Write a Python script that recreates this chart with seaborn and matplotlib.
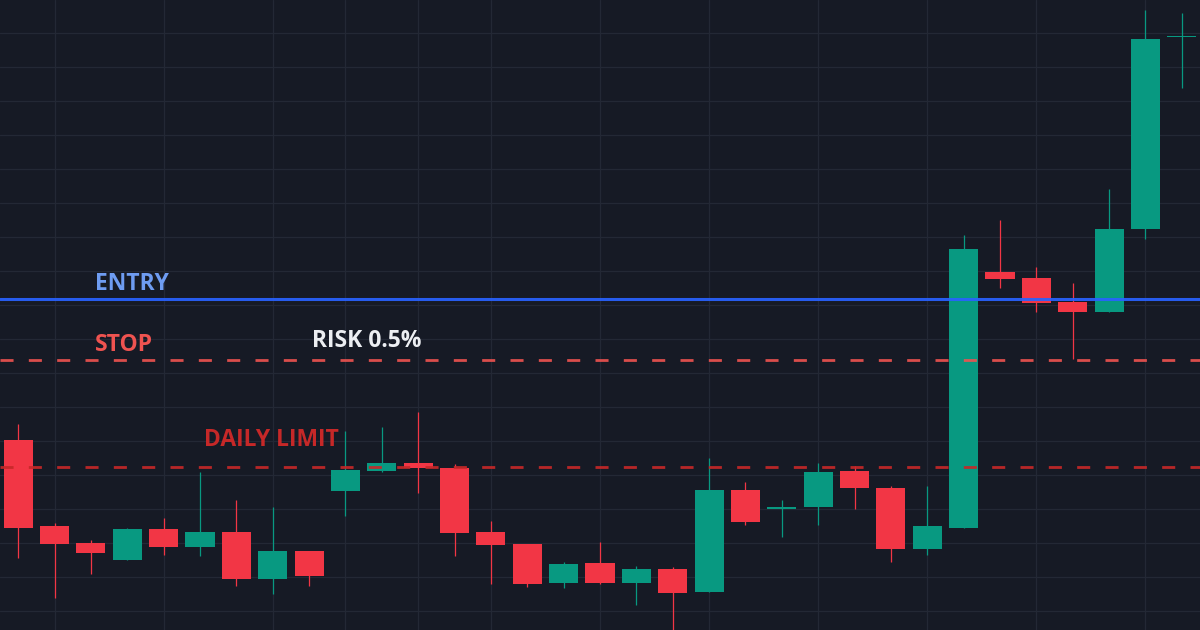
import numpy as np
import pandas as pd
import matplotlib
matplotlib.use("Agg")
import matplotlib.pyplot as plt
import seaborn as sns

# ---- data (price units) ----
opens  = [60.3, 35.0, 29.9, 25.1, 34.2, 28.9, 33.1, 19.4, 27.6, 45.4, 51.2, 53.5, 52.1, 33.2, 29.6, 18.1, 24.2,
          18.3, 22.4, 15.6, 45.5, 40.0, 40.7, 51.2, 46.3, 28.1, 34.5, 109.8, 107.9, 100.9, 97.9, 122.3, 178.8]
closes = [34.5, 29.7, 27.1, 34.2, 28.9, 33.2, 19.4, 27.6, 20.2, 51.5, 53.5, 52.1, 33.0, 29.4, 17.9, 23.9, 18.3,
          22.4, 15.2, 45.5, 36.1, 40.6, 50.9, 46.1, 28.1, 35.0, 116.5, 107.6, 100.7, 97.9, 122.4, 178.3, 178.9]
highs  = [65.0, 35.9, 30.9, 34.4, 37.4, 51.0, 42.6, 40.6, 27.6, 62.9, 64.2, 68.4, 53.2, 36.5, 29.7, 24.4, 30.2,
          23.3, 22.9, 55.1, 47.9, 42.6, 53.4, 52.6, 46.8, 46.9, 120.7, 125.0, 111.2, 106.6, 134.2, 186.8, 185.9]
lows   = [25.7, 13.8, 21.0, 25.1, 26.5, 26.3, 17.4, 15.0, 17.4, 37.9, 51.0, 44.8, 26.3, 18.0, 17.0, 16.7, 18.0,
          11.8, 3.0, 15.6, 35.3, 31.9, 35.3, 39.9, 24.5, 26.6, 34.3, 105.0, 97.9, 84.2, 97.9, 119.4, 163.8]

entry_price = 101.7
stop_price = 83.7
daily_limit_price = 52.4

level_labels = ["ENTRY", "STOP", "DAILY LIMIT"]
risk_label = "RISK 0.5%"

grid_x_positions = [1, 4, 7, 9, 11, 13, 16, 19, 22, 25, 28, 31]
grid_y_values = list(range(10, 190, 10))

# ---- styling ----
BG = "#161a25"
GRID = "#232835"
UP = "#089981"
DOWN = "#f23645"

sns.set_theme(style="dark", rc={
    "axes.facecolor": BG,
    "figure.facecolor": BG,
    "grid.color": GRID,
})
plt.rcParams["font.family"] = ["Open Sans", "DejaVu Sans"]

df = pd.DataFrame({"open": opens, "close": closes, "high": highs, "low": lows})
df["idx"] = np.arange(len(df))
df["up"] = df["close"] >= df["open"]
df["bottom"] = df[["open", "close"]].min(axis=1)
df["height"] = (df["close"] - df["open"]).abs().clip(lower=0.35)
df["color"] = np.where(df["up"], UP, DOWN)

fig = plt.figure(figsize=(12, 6.3), dpi=100)
ax = fig.add_axes([0, 0, 1, 1])
ax.set_facecolor(BG)

# grid
for gx in grid_x_positions:
    ax.axvline(gx, color=GRID, lw=0.9, zorder=0)
for gy in grid_y_values:
    ax.axhline(gy, color=GRID, lw=0.9, zorder=0)

# wicks
ax.vlines(df["idx"], df["low"], df["high"], colors=df["color"], lw=0.9, zorder=2)
# bodies
ax.bar(df["idx"], df["height"], bottom=df["bottom"], width=0.8, color=df["color"],
       linewidth=0, zorder=3)

# levels
ax.axhline(entry_price, color="#2962ff", lw=2.2, alpha=0.92, zorder=5)
ax.axhline(stop_price, color="#ef5350", lw=2.0, alpha=0.9, zorder=5,
           linestyle=(0, (4.7, 5.5)), dash_capstyle="butt")
ax.axhline(daily_limit_price, color="#c62828", lw=2.0, alpha=0.92, zorder=5,
           linestyle=(0, (4.7, 5.5)), dash_capstyle="butt")

# labels
fs = 16.5
ax.text(2.12, 104.4, level_labels[0], color="#6e9cf2", fontsize=fs, fontweight="bold",
        va="baseline", ha="left", zorder=6)
ax.text(2.12, 86.6, level_labels[1], color="#ef5350", fontsize=fs, fontweight="bold",
        va="baseline", ha="left", zorder=6)
ax.text(5.12, 58.5, level_labels[2], color="#c62828", fontsize=fs, fontweight="bold",
        va="baseline", ha="left", zorder=6)
ax.text(8.08, 87.7, risk_label, color="#eceef2", fontsize=fs, fontweight="bold",
        va="baseline", ha="left", zorder=6)

ax.set_xlim(-0.5, 32.5)
ax.set_ylim(4.4, 189.7)
ax.set_xticks([])
ax.set_yticks([])
ax.grid(False)
for s in ax.spines.values():
    s.set_visible(False)

fig.savefig("out.png", dpi=100, facecolor=BG)
